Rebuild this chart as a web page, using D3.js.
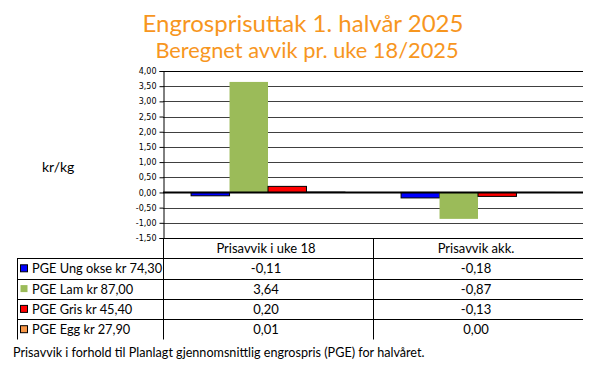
<!DOCTYPE html>
<html><head><meta charset="utf-8">
<script src="https://cdn.jsdelivr.net/npm/d3@7"></script>
<style>
html,body{margin:0;padding:0;background:#fff;}
svg{display:block;}
</style></head>
<body>
<svg id="chart" width="602" height="375"></svg>
<script>
const titleLines = ["Engrosprisuttak 1. halvår 2025", "Beregnet avvik pr. uke 18/2025"];
const categories = ["Prisavvik i uke 18", "Prisavvik akk."];
const seriesNames = ["PGE Ung okse kr 74,30", "PGE Lam kr 87,00", "PGE Gris kr 45,40", "PGE Egg kr 27,90"];
const seriesColors = ["#0000FF", "#9BBB59", "#FF0000", "#F79646"];
const valuesUke18 = [-0.11, 3.64, 0.20, 0.01];
const valuesAkk = [-0.18, -0.87, -0.13, 0.00];
const yTicks = [-1.5, -1.0, -0.5, 0, 0.5, 1.0, 1.5, 2.0, 2.5, 3.0, 3.5, 4.0];
const yLabel = "kr/kg";
const footnote = "Prisavvik i forhold til Planlagt gjennomsnittlig engrospris (PGE) for halvåret.";

const seriesValues = seriesNames.map((n, i) => [valuesUke18[i], valuesAkk[i]]);
const fmt = v => d3.format(".2f")(v).replace(".", ",").replace("\u2212", "-");

const svg = d3.select("#chart");
const L = 163, R = 583, T = 71, B = 238;

const x0 = d3.scaleBand().domain(categories).range([L, R]).padding(0);
const x1 = d3.scaleBand().domain(seriesNames).range([0, x0.bandwidth()]).paddingInner(0).paddingOuter(0.73);
const y = d3.scaleLinear().domain([-1.5, 4]).range([B, T]);

// title
const tf = "Lato, 'Open Sans', sans-serif";
svg.append("text").attr("x", 303).attr("y", 32).attr("text-anchor", "middle")
  .attr("font-family", tf).attr("font-size", 24).attr("fill", "#F7961E").text(titleLines[0]);
svg.append("text").attr("x", 307).attr("y", 58).attr("text-anchor", "middle")
  .attr("font-family", tf).attr("font-size", 21.8).attr("fill", "#F7961E").text(titleLines[1]);

// gridlines
svg.append("g").selectAll("line").data(yTicks).join("line")
  .attr("x1", L).attr("x2", R)
  .attr("y1", d => Math.round(y(d)) + 0.5).attr("y2", d => Math.round(y(d)) + 0.5)
  .attr("stroke", d => (d === 4 || d === -1.5) ? "#000" : "#404040").attr("stroke-width", 1);

// y axis
const yAxis = d3.axisLeft(y).tickValues(yTicks).tickFormat(fmt).tickSize(4).tickPadding(3);
const ga = svg.append("g").attr("transform", `translate(${L + 0.5},0)`).call(yAxis);
ga.select(".domain").attr("stroke", "#000");
ga.selectAll(".tick line").attr("stroke", "#000");
ga.selectAll(".tick text").attr("font-family", "'DejaVu Sans', Verdana, sans-serif").attr("font-size", 8).attr("fill", "#000");

// bars
const g = svg.append("g");
categories.forEach((c, ci) => {
  seriesNames.forEach((s, si) => {
    const v = seriesValues[si][ci];
    const x = x0(c) + x1(s);
    const y0 = y(Math.max(0, v)), y1v = y(Math.min(0, v));
    g.append("rect").attr("x", x).attr("y", y0).attr("width", x1.bandwidth())
      .attr("height", Math.max(0.01, y1v - y0))
      .attr("fill", seriesColors[si])
      .attr("stroke", si === 1 ? "none" : "#000").attr("stroke-width", 1);
  });
});
// zero line
svg.append("line").attr("x1", L).attr("x2", R).attr("y1", y(0)).attr("y2", y(0))
  .attr("stroke", "#000").attr("stroke-width", 2);

// y label
svg.append("text").attr("x", 42).attr("y", 172).attr("font-family", tf).attr("font-size", 14)
  .attr("fill", "#000").text(yLabel);

// table
const tableFont = "Lato, 'Open Sans', sans-serif";
const rowH = 20.3, headTop = B, leftX = 17;
const rowsTop = headTop + rowH;
const sep = x0(categories[1]);
const tg = svg.append("g").attr("stroke", "#000").attr("stroke-width", 1);
tg.append("line").attr("x1", L + 0.5).attr("x2", L + 0.5).attr("y1", headTop).attr("y2", rowsTop + 4 * rowH);
tg.append("line").attr("x1", Math.round(sep) + 0.5).attr("x2", Math.round(sep) + 0.5).attr("y1", headTop).attr("y2", rowsTop + 4 * rowH);
tg.append("line").attr("x1", leftX + 0.5).attr("x2", leftX + 0.5).attr("y1", rowsTop).attr("y2", rowsTop + 4 * rowH);
for (let i = 0; i < 4; i++) {
  const yy = Math.round(rowsTop + i * rowH) + 0.5;
  tg.append("line").attr("x1", leftX).attr("x2", R).attr("y1", yy).attr("y2", yy);
}
categories.forEach(c => {
  svg.append("text").attr("x", x0(c) + x0.bandwidth() / 2 - 2).attr("y", headTop + 15)
    .attr("text-anchor", "middle").attr("font-family", tableFont).attr("font-size", 13).text(c);
});
seriesNames.forEach((s, si) => {
  const ry = rowsTop + si * rowH;
  svg.append("rect").attr("x", 20.5).attr("y", ry + 6.5).attr("width", 7).attr("height", 7)
    .attr("fill", seriesColors[si]).attr("stroke", si === 1 ? "none" : "#000");
  svg.append("text").attr("x", 32).attr("y", ry + 15).attr("font-family", tableFont)
    .attr("font-size", 12.8).text(s);
  categories.forEach((c, ci) => {
    svg.append("text").attr("x", x0(c) + x0.bandwidth() / 2 - 2).attr("y", ry + 15)
      .attr("text-anchor", "middle").attr("font-family", tableFont).attr("font-size", 13)
      .text(fmt(seriesValues[si][ci]));
  });
});

// footnote
svg.append("text").attr("x", 13).attr("y", 357).attr("font-family", tableFont).attr("font-size", 12.6)
  .attr("fill", "#000").text(footnote);
</script>
</body></html>
